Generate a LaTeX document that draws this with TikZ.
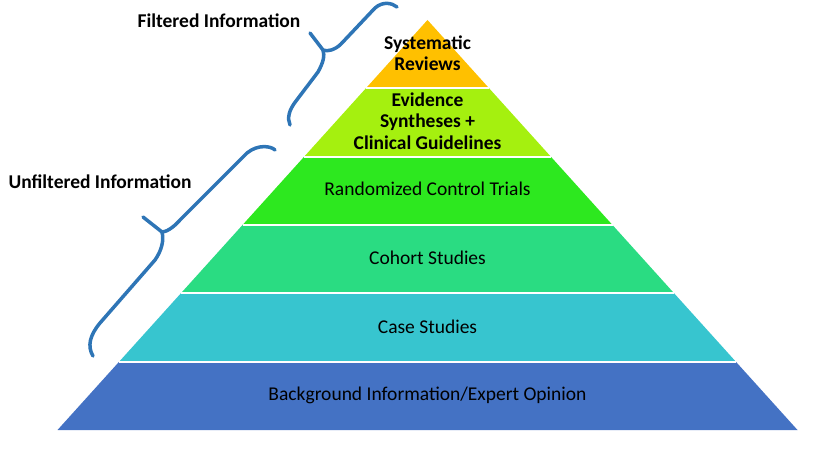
\documentclass[tikz,border=0pt]{standalone}
\usepackage{fontspec}
\setmainfont{Carlito}
\usetikzlibrary{calc}
\definecolor{srcol}{HTML}{FFC000}
\definecolor{escol}{HTML}{A5F00F}
\definecolor{rctcol}{HTML}{2DE81F}
\definecolor{cohcol}{HTML}{2ADC82}
\definecolor{casecol}{HTML}{37C5CF}
\definecolor{bgcol}{HTML}{4472C4}
\definecolor{bracecol}{HTML}{2E75B6}
\begin{document}
\begin{tikzpicture}[x=1pt,y=-1pt,
  lbl/.style={font=\fontsize{19.5}{21.5}\selectfont, align=center, text=black, inner sep=0pt},
  blbl/.style={lbl, font=\fontsize{19.5}{21.5}\selectfont\bfseries},
  sep/.style={draw=white, line width=2pt},
  bracestyle/.style={draw=bracecol, line width=3.5pt, line cap=round, line join=round}]
\path[use as bounding box] (0,0) rectangle (819,454);
\coordinate (A) at (427.5,20);
\coordinate (BL) at (57.5,430);
\coordinate (BR) at (797.5,430);
\foreach \i/\c in {0/bgcol,1/casecol,2/cohcol,3/rctcol,4/escol} {
  \pgfmathsetmacro{\fa}{\i/6}
  \pgfmathsetmacro{\fb}{(\i+1)/6}
  \fill[\c] ($(BL)!\fa!(A)$) -- ($(BR)!\fa!(A)$) -- ($(BR)!\fb!(A)$) -- ($(BL)!\fb!(A)$) -- cycle;
}
\fill[srcol] ($(BL)!5/6!(A)$) -- ($(BR)!5/6!(A)$) -- (A) -- cycle;
\foreach \i in {1,...,5} {
  \draw[sep] ($(BL)!\i/6!(A)$) -- ($(BR)!\i/6!(A)$);
}
\node[blbl] (sr) at (427.5,53) {Systematic\\Reviews};
\node[blbl] (es) at (427.5,121) {Evidence\\Syntheses +\\Clinical Guidelines};
\node[lbl] (rct) at (427.5,189) {Randomized Control Trials};
\node[lbl] (coh) at (427.5,258) {Cohort Studies};
\node[lbl] (cs) at (427.5,327) {Case Studies};
\node[lbl] (bg) at (427.5,395) {Background Information/Expert Opinion};
\node[blbl] (filt) at (219,21) {Filtered Information};
\node[blbl] (unfilt) at (100,182) {Unfiltered Information};
% filtered brace
\draw[bracestyle] (397,7) .. controls (392,3) and (383,1) .. (375,8)
  -- (341,44) .. controls (335,50) and (327,52) .. (323,50) -- (310,33);
\draw[bracestyle] (323,50) .. controls (325,56) and (323,63) .. (318,72)
  -- (296,101) .. controls (289,110) and (287,118) .. (290,125);
% unfiltered brace
\draw[bracestyle] (275,150) .. controls (271,146) and (258,144) .. (247,153)
  -- (180,220) .. controls (173,228) and (166,232) .. (162,232) -- (143,217);
\draw[bracestyle] (162,232) .. controls (164,240) and (162,250) .. (155,260)
  -- (100,323) .. controls (90,335) and (87,346) .. (93,356);
\end{tikzpicture}
\end{document}
